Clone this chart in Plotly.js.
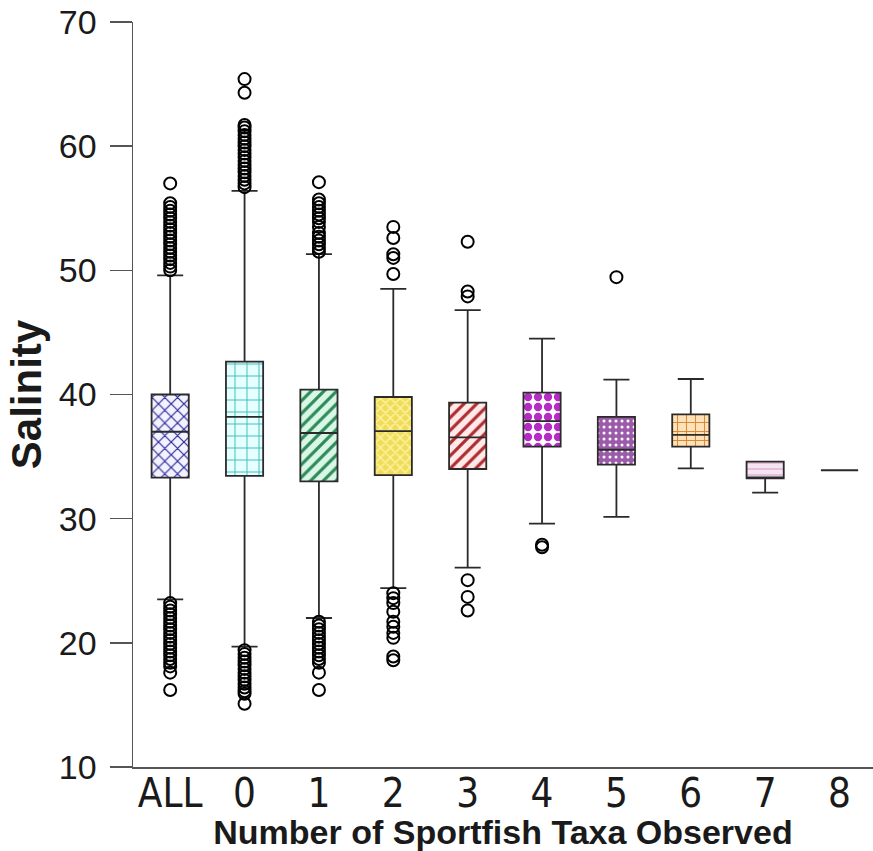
<!DOCTYPE html>
<html>
<head>
<meta charset="utf-8">
<script src="https://cdn.plot.ly/plotly-3.0.1.min.js"></script>
<style>html,body{margin:0;padding:0;background:#fff}</style>
</head>
<body>
<div id="chart" style="width:873px;height:851px"></div>
<script>
// Salinity by number of sportfish taxa observed
const categories = ["ALL", "0", "1", "2", "3", "4", "5", "6", "7", "8"];

const q1 = [33.3, 33.45, 33.0, 33.5, 34.0, 35.8, 34.35, 35.8, 33.25, 33.9];
const medians = [37.0, 38.2, 36.9, 37.05, 36.55, 37.85, 35.55, 36.75, 33.25, 33.9];
const q3 = [40.0, 42.65, 40.4, 39.8, 39.35, 40.15, 38.2, 38.4, 34.6, 33.9];
const lowerWhisker = [23.5, 19.7, 22.0, 24.4, 26.05, 29.6, 30.15, 34.05, 32.1, 33.9];
const upperWhisker = [49.6, 56.4, 51.3, 48.5, 46.8, 44.5, 41.2, 41.25, 34.6, 33.9];

// outlying observations per group
const outliersALL = [50.0, 50.3, 50.6, 50.9, 51.2, 51.5, 51.8, 52.1, 52.4, 52.7, 53.0, 53.3, 53.6, 53.9, 54.2, 54.5, 54.8, 55.1, 55.4, 57.0,
  23.2, 22.9, 22.6, 22.3, 22.0, 21.7, 21.4, 21.1, 20.8, 20.5, 20.2, 19.9, 19.6, 19.3, 19.0, 18.7, 18.4, 18.1, 17.6, 16.2];
const outliers0 = [56.7, 57.0, 57.3, 57.6, 57.9, 58.2, 58.5, 58.8, 59.1, 59.4, 59.7, 60.0, 60.3, 60.6, 60.9, 61.2, 61.5, 61.7, 64.3, 65.4,
  19.4, 19.1, 18.8, 18.5, 18.2, 17.9, 17.6, 17.3, 17.0, 16.7, 16.4, 16.1, 15.9, 15.1];
const outliers1 = [51.5, 51.8, 52.1, 52.4, 52.7, 53.0, 53.5, 53.9, 54.2, 54.5, 54.8, 55.1, 55.4, 55.7, 57.1,
  21.7, 21.4, 21.1, 20.8, 20.5, 20.2, 19.9, 19.6, 19.3, 19.0, 18.7, 18.4, 17.6, 16.2];
const outliers2 = [49.7, 51.0, 51.3, 52.6, 53.5,
  24.0, 23.6, 23.2, 22.5, 21.7, 21.3, 20.8, 20.4, 18.9, 18.6];
const outliers3 = [47.9, 48.3, 52.3, 25.05, 23.7, 22.6];
const outliers4 = [27.9, 27.7];
const outliers5 = [49.45];
const outliers6 = [];
const outliers7 = [];
const outliers8 = [];

const outlierGroups = [outliersALL, outliers0, outliers1, outliers2, outliers3,
  outliers4, outliers5, outliers6, outliers7, outliers8];

// box fill styles
const boxBg = ["#f4f2ff", "#e6ffff", "#d9f7e6", "#efdd58", "#ffeaea", "#ffffff", "#9c5aaa", "#ffe2b8", "#f6e4f2", "#ffffff"];
const boxFg = ["#2b2b9a", "#3bbcbc", "#2f8a58", "#fff3a8", "#b02a30", "#b52cc4", "#ffffff", "#d98a3a", "#d6a8cc", "#ffffff"];
const boxShape = ["x", "+", "/", "x", "/", ".", ".", "+", "-", ""];
const boxPatSize = [9, 12, 9, 7, 9, 10, 6, 9, 6, 8];
const boxSolidity = [0.25, 0.15, 0.35, 0.35, 0.35, 0.55, 0.2, 0.22, 0.2, 0.3];

const ox = [], oy = [];
outlierGroups.forEach((vals, i) => vals.forEach(v => { ox.push(categories[i]); oy.push(v); }));

const fillBars = {
  type: "bar",
  x: categories,
  base: q1,
  y: q3.map((v, i) => v - q1[i]),
  width: 0.5,
  marker: {
    color: "#ffffff",
    line: {width: 0},
    pattern: {
      shape: boxShape, fgcolor: boxFg, bgcolor: boxBg,
      size: boxPatSize, solidity: boxSolidity,
      fillmode: "replace", fgopacity: 1
    }
  },
  hoverinfo: "skip",
  showlegend: false
};

const boxes = {
  type: "box",
  x: categories,
  q1: q1,
  median: medians,
  q3: q3,
  lowerfence: lowerWhisker,
  upperfence: upperWhisker,
  fillcolor: "rgba(0,0,0,0)",
  line: {color: "#2a2a2a", width: 1.8},
  whiskerwidth: 0.7,
  boxpoints: false,
  showlegend: false
};

const outlierPts = {
  type: "scatter",
  mode: "markers",
  x: ox,
  y: oy,
  marker: {symbol: "circle-open", size: 12, color: "#000000", line: {width: 2, color: "#000000"}},
  showlegend: false
};

const layout = {
  width: 873,
  height: 851,
  margin: {l: 133, r: 0, t: 22, b: 84},
  paper_bgcolor: "#ffffff",
  plot_bgcolor: "#ffffff",
  boxmode: "overlay",
  boxgap: 0.5,
  boxgroupgap: 0,
  showlegend: false,
  font: {family: "Liberation Sans, Arial, sans-serif", color: "#1a1a1a"},
  xaxis: {
    type: "category",
    categoryorder: "array",
    categoryarray: categories,
    range: [-0.5, 9.45],
    showline: true,
    linecolor: "#555555",
    linewidth: 1.5,
    ticks: "",
    showgrid: false,
    zeroline: false,
    ticklabelstandoff: -10,
    tickfont: {family: "Liberation Sans Narrow, DejaVu Sans Condensed, Arial Narrow, sans-serif", size: 40, color: "#1a1a1a"},
    title: {text: "<b>Number of Sportfish Taxa Observed</b>", font: {size: 34, color: "#1a1a1a"}, standoff: 0},
    automargin: false
  },
  yaxis: {
    range: [10, 70],
    tickvals: [10, 20, 30, 40, 50, 60, 70],
    showline: true,
    linecolor: "#555555",
    linewidth: 1.5,
    ticks: "outside",
    ticklen: 22,
    tickwidth: 1.5,
    tickcolor: "#555555",
    ticklabelstandoff: 6,
    showgrid: false,
    zeroline: false,
    tickfont: {size: 34, color: "#1a1a1a"},
    title: {text: "<b>Salinity</b>", font: {size: 42, color: "#1a1a1a"}, standoff: 4},
    automargin: false
  }
};

Plotly.newPlot("chart", [fillBars, boxes, outlierPts], layout, {displayModeBar: false, staticPlot: true});
</script>
</body>
</html>
